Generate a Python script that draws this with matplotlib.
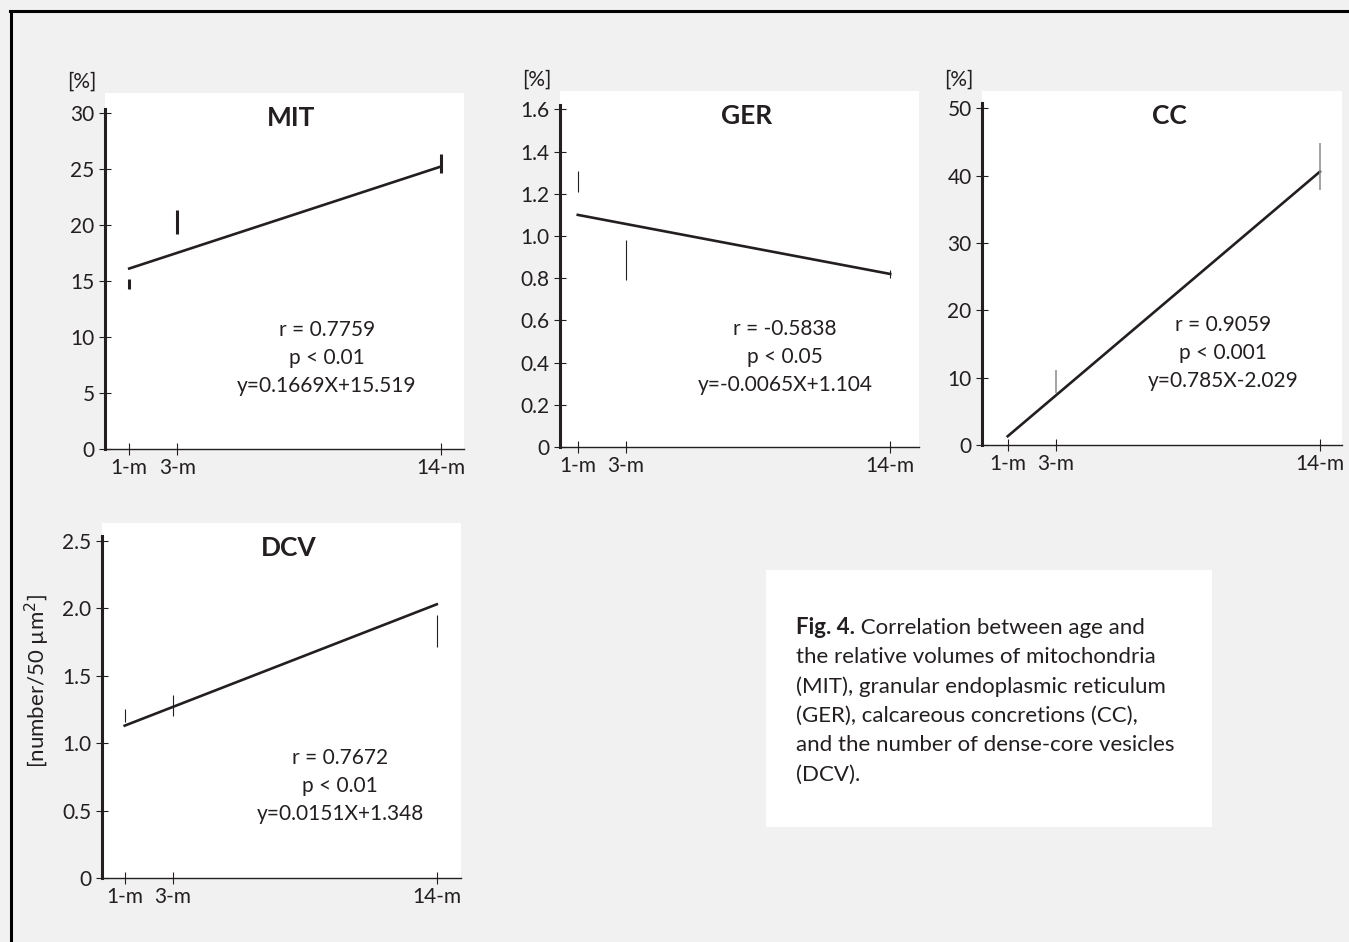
import matplotlib.pyplot as plt
from matplotlib.lines import Line2D
from matplotlib.patches import Rectangle

plt.rcParams['font.family'] = ['Lato', 'DejaVu Sans']

INK = '#231f20'
BG = '#f1f1f1'

# age groups (months)
months = [1, 3, 14]
month_labels = ['1-m', '3-m', '14-m']

# MIT: regression line end points and error bar ranges
mit_line = [16.1, 25.2]
mit_low = [14.3, 19.2, 24.6]
mit_high = [15.2, 21.3, 26.3]

# GER
ger_line = [1.10, 0.82]
ger_low = [1.21, 0.79, 0.80]
ger_high = [1.31, 0.98, 0.84]

# CC (no bar visible at 1-m)
cc_line = [1.3, 40.6]
cc_bar_x = [3, 14]
cc_low = [7.7, 37.9]
cc_high = [11.2, 44.8]

# DCV
dcv_line = [1.13, 2.03]
dcv_low = [1.16, 1.20, 1.71]
dcv_high = [1.25, 1.36, 1.95]

caption_lines = [
    'the relative volumes of mitochondria',
    '(MIT), granular endoplasmic reticulum',
    '(GER), calcareous concretions (CC),',
    'and the number of dense-core vesicles',
    '(DCV).',
]

W, H = 1349, 942
fig = plt.figure(figsize=(W / 100, H / 100), dpi=100)
fig.patch.set_facecolor(BG)


def make_axes(x0, y0, x1, y1):
    # pixel box -> figure fraction
    return fig.add_axes([x0 / W, 1 - y1 / H, (x1 - x0) / W, (y1 - y0) / H])


def style(ax, xlim, ylim, spine_top, yticks, yticklabels, title, stats, stat_xy,
          unit='[%]'):
    ax.set_facecolor('white')
    ax.set_xlim(*xlim)
    ax.set_ylim(*ylim)
    for s in ['top', 'right']:
        ax.spines[s].set_visible(False)
    ax.spines['left'].set_linewidth(2.2)
    ax.spines['left'].set_color(INK)
    ax.spines['left'].set_bounds(0, spine_top)
    ax.spines['bottom'].set_linewidth(1.0)
    ax.spines['bottom'].set_color(INK)
    ax.set_xticks(months)
    ax.set_xticklabels(month_labels)
    ax.set_yticks(yticks)
    ax.set_yticklabels(yticklabels)
    ax.tick_params(direction='inout', length=9, width=0.8, color=INK,
                   labelsize=15, labelcolor=INK)
    ax.tick_params(axis='y', pad=3)
    ax.tick_params(axis='x', pad=2)
    ax.annotate(title, xy=(0.5, 1), xycoords='axes fraction', xytext=(5, -18),
                textcoords='offset points', ha='center', va='center',
                fontsize=19, fontweight='bold', color=INK)
    if unit:
        ax.annotate(unit, xy=(0, 1), xycoords='axes fraction', xytext=(-17, 8),
                    textcoords='offset points', ha='center', va='center',
                    fontsize=15, color=INK)
    ax.text(stat_xy[0], stat_xy[1], stats, transform=ax.transAxes,
            ha='center', va='center', fontsize=15, color=INK, linespacing=1.5)


# MIT
ax = make_axes(105, 93, 464, 449)
ax.plot([months[0], months[-1]], mit_line, color=INK, lw=1.9)
ax.vlines(months, mit_low, mit_high, color=INK, lw=2.2)
style(ax, (-0.01, 14.96), (0, 31.76), 30.3, [0, 5, 10, 15, 20, 25, 30],
      ['0', '5', '10', '15', '20', '25', '30'], 'MIT',
      'r = 0.7759\np < 0.01\ny=0.1669X+15.519', (0.618, 0.255))

# GER
ax = make_axes(560, 91, 919, 447)
ax.plot([months[0], months[-1]], ger_line, color=INK, lw=1.9)
ax.vlines(months, ger_low, ger_high, color=INK, lw=0.8)
style(ax, (0.26, 15.2), (0, 1.687), 1.62,
      [0, 0.2, 0.4, 0.6, 0.8, 1.0, 1.2, 1.4, 1.6],
      ['0', '0.2', '0.4', '0.6', '0.8', '1.0', '1.2', '1.4', '1.6'], 'GER',
      'r = -0.5838\np < 0.05\ny=-0.0065X+1.104', (0.627, 0.252))

# CC
ax = make_axes(982, 91, 1342, 445)
ax.plot([months[0], months[-1]], cc_line, color=INK, lw=1.9)
ax.vlines(cc_bar_x, cc_low, cc_high, color='#8a8a8a', lw=1.1)
style(ax, (-0.07, 14.92), (0, 52.58), 50.75, [0, 10, 20, 30, 40, 50],
      ['0', '10', '20', '30', '40', '50'], 'CC',
      'r = 0.9059\np < 0.001\ny=0.785X-2.029', (0.669, 0.259))

# DCV
ax = make_axes(102, 523, 461, 878)
ax.plot([months[0], months[-1]], dcv_line, color=INK, lw=1.9)
ax.vlines(months, dcv_low, dcv_high, color=INK, lw=0.8)
style(ax, (0.054, 15.01), (0, 2.633), 2.54, [0, 0.5, 1.0, 1.5, 2.0, 2.5],
      ['0', '0.5', '1.0', '1.5', '2.0', '2.5'], 'DCV',
      'r = 0.7672\np < 0.01\ny=0.0151X+1.348', (0.663, 0.258), unit=None)
ax.set_ylabel('[number/50 µm$^2$]', fontsize=16, color=INK)
ax.yaxis.set_label_coords(-0.14, 0.555)

# caption box
fig.add_artist(Rectangle((766 / W, 1 - 827 / H), (1212 - 766) / W, (827 - 570) / H,
                         transform=fig.transFigure, facecolor='white',
                         edgecolor='none'))
cap_x = 796 / W
cap_y = 1 - 634 / H
step = 29.3 / H
fig_lbl = fig.text(cap_x, cap_y, 'Fig. 4.', fontsize=16, fontweight='bold',
                   color=INK, va='baseline')
fig.add_artist(plt.Annotation(' Correlation between age and', xy=(1, 0),
                              xycoords=fig_lbl, va='bottom', fontsize=16,
                              color=INK))
for i, line in enumerate(caption_lines):
    fig.text(cap_x, cap_y - (i + 1) * step, line, fontsize=16, color=INK,
             va='baseline')

# frame lines on top and left
fig.add_artist(Line2D([11 / W, 11 / W], [0, 1 - 10.5 / H], transform=fig.transFigure,
                      color='black', lw=2.2))
fig.add_artist(Line2D([10 / W, 1], [1 - 10.5 / H, 1 - 10.5 / H],
                      transform=fig.transFigure, color='black', lw=2.2))

fig.savefig('out.png', dpi=100, facecolor=fig.get_facecolor())
